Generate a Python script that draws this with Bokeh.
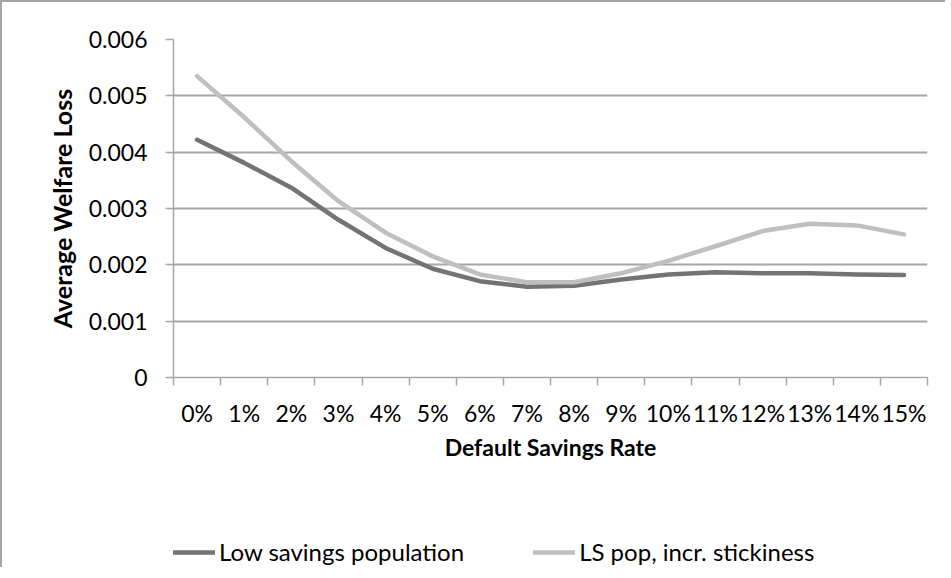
from bokeh.plotting import figure
from bokeh.models import FixedTicker, Legend, LegendItem, ColumnDataSource
from bokeh.layouts import column
from bokeh.embed import file_html
from bokeh.resources import INLINE

categories = ["0%", "1%", "2%", "3%", "4%", "5%", "6%", "7%", "8%", "9%",
              "10%", "11%", "12%", "13%", "14%", "15%"]
low_savings = [0.00422, 0.00381, 0.00337, 0.00280, 0.00230, 0.00193, 0.00171, 0.00161,
               0.00163, 0.00174, 0.00183, 0.00187, 0.00185, 0.00185, 0.00183, 0.00182]
ls_sticky = [0.00535, 0.00462, 0.00384, 0.00313, 0.00257, 0.00215, 0.00183, 0.00169,
             0.00169, 0.00185, 0.00207, 0.00233, 0.00260, 0.00273, 0.00270, 0.00254]
y_ticks = [0, 0.001, 0.002, 0.003, 0.004, 0.005, 0.006]
y_tick_labels = ["0", "0.001", "0.002", "0.003", "0.004", "0.005", "0.006"]
series_names = ["Low savings population", "LS pop, incr. stickiness"]

FONT = "Lato"
GRID = "#a6a6a6"
DARK = "#737373"
LIGHT = "#bfbfbf"

xs = [i + 0.5 for i in range(len(categories))]
src = ColumnDataSource(dict(x=xs, low=low_savings, sticky=ls_sticky))

p = figure(width=945, height=467, output_backend="svg", toolbar_location=None,
           x_range=(0, len(categories)), y_range=(0, 0.006),
           min_border_left=171, min_border_right=20, min_border_top=37, min_border_bottom=92)
p.styles = {"border-left": "2px solid #a6a6a6", "border-top": "2px solid #a6a6a6"}
p.outline_line_color = None
p.background_fill_color = "white"
p.border_fill_color = "white"

p.line("x", "low", source=src, line_color=DARK, line_width=4.5,
       line_cap="round", line_join="round")
p.line("x", "sticky", source=src, line_color=LIGHT, line_width=4.5,
       line_cap="round", line_join="round")

# x axis
p.xaxis.ticker = FixedTicker(ticks=xs, minor_ticks=list(range(len(categories) + 1)))
p.xaxis.major_label_overrides = {x: c for x, c in zip(xs, categories)}
p.xaxis.major_tick_out = 0
p.xaxis.major_tick_in = 0
p.xaxis.minor_tick_out = 8
p.xaxis.minor_tick_in = 0
p.xaxis.minor_tick_line_color = GRID
p.xaxis.minor_tick_line_width = 1.5
p.xaxis.axis_line_color = GRID
p.xaxis.axis_line_width = 1.5
p.xaxis.major_label_standoff = 13
p.xaxis.major_label_text_font = FONT
p.xaxis.major_label_text_font_size = "23px"
p.xaxis.major_label_text_color = "black"
p.xaxis.axis_label = "Default Savings Rate"
p.xaxis.axis_label_text_font = FONT
p.xaxis.axis_label_text_font_size = "23px"
p.xaxis.axis_label_text_font_style = "bold"
p.xaxis.axis_label_text_color = "black"
p.xaxis.axis_label_standoff = 3

# y axis
p.yaxis.ticker = FixedTicker(ticks=y_ticks, minor_ticks=[])
p.yaxis.major_label_overrides = {t: l for t, l in zip(y_ticks, y_tick_labels)}
p.yaxis.major_tick_out = 8
p.yaxis.major_tick_in = 0
p.yaxis.major_tick_line_color = GRID
p.yaxis.major_tick_line_width = 1.5
p.yaxis.axis_line_color = GRID
p.yaxis.axis_line_width = 1.5
p.yaxis.major_label_standoff = 18
p.yaxis.major_label_text_font = FONT
p.yaxis.major_label_text_font_size = "23px"
p.yaxis.major_label_text_color = "black"
p.yaxis.axis_label = "Average Welfare Loss"
p.yaxis.axis_label_text_font = FONT
p.yaxis.axis_label_text_font_size = "25px"
p.yaxis.axis_label_text_font_style = "bold"
p.yaxis.axis_label_text_color = "black"
p.yaxis.axis_label_standoff = 9

p.xgrid.visible = False
p.ygrid.grid_line_color = GRID
p.ygrid.grid_line_width = 1.8

# legend strip (its frame is aligned with the chart's frame by the column layout)
q = figure(width=945, height=100, output_backend="svg", toolbar_location=None,
           x_range=(0, 1), y_range=(0, 1), min_border=0)
q.styles = {"border-left": "2px solid #a6a6a6"}
q.outline_line_color = None
q.axis.visible = False
q.grid.visible = False
q.border_fill_color = "white"
q.background_fill_color = "white"
# off-range placeholder renderers, only used to draw the legend swatches
g1 = q.line([2, 3], [2, 3], line_color=DARK, line_width=4.5, line_cap="round")
g2 = q.line([2, 3], [2, 3], line_color=LIGHT, line_width=4.5, line_cap="round")
legend = Legend(items=[LegendItem(label=series_names[0], renderers=[g1]),
                       LegendItem(label=series_names[1], renderers=[g2])],
                orientation="horizontal", location=(0, 1),
                padding=0, margin=0, spacing=69, glyph_width=42, glyph_height=20,
                label_standoff=4, border_line_color=None, background_fill_alpha=0,
                label_text_font=FONT, label_text_font_size="24px", label_text_color="black")
q.add_layout(legend, "center")

layout = column(p, q, spacing=0)
open("out.html", "w").write(file_html(layout, INLINE))
